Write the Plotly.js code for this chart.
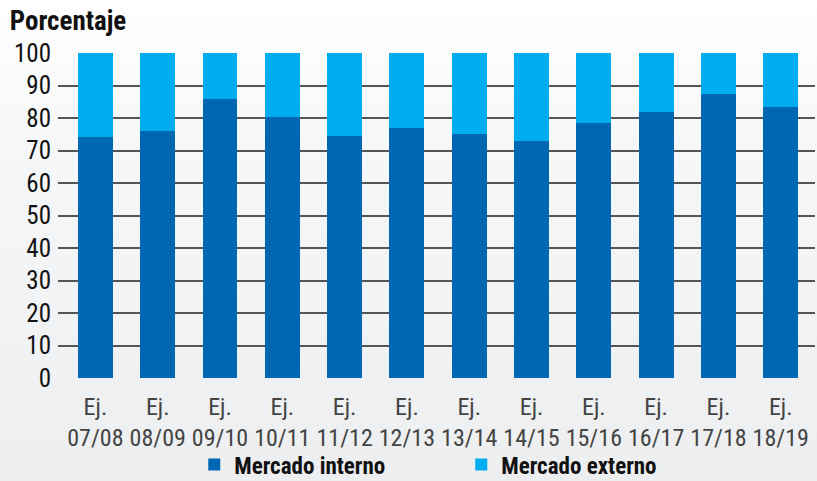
<!DOCTYPE html>
<html>
<head>
<meta charset="utf-8">
<script src="https://cdn.plot.ly/plotly-3.0.1.min.js"></script>
<style>
html,body{margin:0;padding:0;}
body{width:817px;height:481px;background:linear-gradient(to bottom,#ffffff 0%,#f6f7f8 30%,#eceef0 100%);}
#chart{width:817px;height:481px;}
</style>
</head>
<body>
<div id="chart"></div>
<script>
const categories = ["Ej.<br>07/08","Ej.<br>08/09","Ej.<br>09/10","Ej.<br>10/11","Ej.<br>11/12","Ej.<br>12/13","Ej.<br>13/14","Ej.<br>14/15","Ej.<br>15/16","Ej.<br>16/17","Ej.<br>17/18","Ej.<br>18/19"];
const mercadoInterno = [74.3, 76.1, 85.7, 80.2, 74.4, 76.8, 75.0, 72.9, 78.5, 81.7, 87.4, 83.4];
const mercadoExterno = mercadoInterno.map(v => +(100 - v).toFixed(1));
const yTicks = [0,10,20,30,40,50,60,70,80,90,100];

const FONT = "'Liberation Sans Narrow','Arial Narrow','Roboto Condensed','Liberation Sans',Arial,sans-serif";

const traces = [
  {type:"bar", name:"Mercado interno", x:categories, y:mercadoInterno, marker:{color:"#0068b2"}, width:0.56},
  {type:"bar", name:"Mercado externo", x:categories, y:mercadoExterno, marker:{color:"#00adef"}, width:0.56}
];

const layout = {
  width:817, height:481,
  paper_bgcolor:"rgba(0,0,0,0)", plot_bgcolor:"rgba(0,0,0,0)",
  barmode:"stack",
  margin:{l:58, r:2, t:53, b:103, autoexpand:false},
  font:{family:FONT, color:"#222"},
  title:{text:"Porcentaje", x:0.012, xref:"container", y:0.957, yref:"container", xanchor:"left", yanchor:"middle",
         font:{family:FONT, size:27, weight:"bold", color:"#111"}},
  xaxis:{type:"category", range:[-0.6,11.55], showgrid:false, zeroline:false, showline:false, ticks:"", automargin:false,
         ticklabelstandoff:12, tickfont:{family:FONT, size:24, color:"#444"}, fixedrange:true},
  yaxis:{range:[0,100], tickvals:yTicks, showgrid:true, gridcolor:"#555", gridwidth:2, zeroline:false, automargin:false,
         showline:false, ticks:"", ticklabelstandoff:6, tickfont:{family:FONT, size:25, color:"#111"}, fixedrange:true},
  showlegend:true,
  legend:{orientation:"h", x:0.18, xanchor:"left", y:0.034, yref:"container", yanchor:"middle", traceorder:"normal",
          font:{family:FONT, size:23, weight:"bold", color:"#111"}, itemwidth:30, entrywidth:222},
  bargap:0.44
};

Plotly.newPlot("chart", traces, layout, {displayModeBar:false, staticPlot:true});
</script>
</body>
</html>
